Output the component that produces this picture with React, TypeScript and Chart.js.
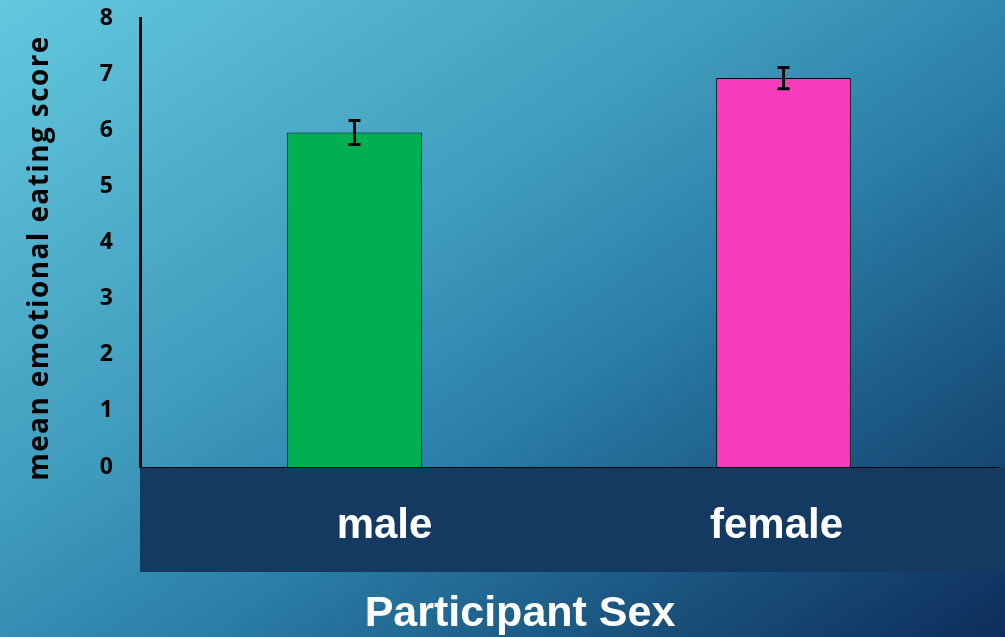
import React, { useEffect, useRef } from "react";
import { Chart, registerables } from "chart.js";

Chart.register(...registerables);

const categories = ["male", "female"];
const meanScores = [5.96, 6.93];
const errorMargins = [0.215, 0.19];
const barColors = ["#00B050", "#F73CBE"];
const yTicks = [0, 1, 2, 3, 4, 5, 6, 7, 8];
const yTitle = "mean emotional eating score";
const xTitle = "Participant Sex";

const W = 1005;
const H = 637;
const labelShift = [30, -7];

const decorPlugin = {
  id: "decor",
  beforeDraw(chart: any) {
    const { ctx } = chart;
    ctx.save();
    const g = ctx.createLinearGradient(0, 0, 650, 950);
    g.addColorStop(0, "#63C8DE");
    g.addColorStop(0.38, "#3F9BBC");
    g.addColorStop(0.55, "#2A7FA8");
    g.addColorStop(0.75, "#1A5580");
    g.addColorStop(1, "#0B2350");
    ctx.fillStyle = g;
    ctx.fillRect(0, 0, W, H);
    const area = chart.chartArea;
    ctx.fillStyle = "#143A62";
    ctx.fillRect(area.left, area.bottom + 1, W - area.left, 104);
    ctx.restore();
  },
  afterDatasetsDraw(chart: any) {
    const { ctx } = chart;
    const meta = chart.getDatasetMeta(0);
    const y = chart.scales.y;
    ctx.save();
    ctx.strokeStyle = "#000000";
    ctx.lineWidth = 3;
    meta.data.forEach((bar: any, i: number) => {
      const x = bar.x;
      const top = y.getPixelForValue(meanScores[i] + errorMargins[i]);
      const bot = y.getPixelForValue(meanScores[i] - errorMargins[i]);
      ctx.beginPath();
      ctx.moveTo(x, top);
      ctx.lineTo(x, bot);
      ctx.moveTo(x - 6, top);
      ctx.lineTo(x + 6, top);
      ctx.moveTo(x - 6, bot);
      ctx.lineTo(x + 6, bot);
      ctx.stroke();
    });
    ctx.restore();
  },
  afterDraw(chart: any) {
    const { ctx } = chart;
    const xs = chart.scales.x;
    const area = chart.chartArea;
    ctx.save();
    ctx.fillStyle = "#FFFFFF";
    ctx.textAlign = "center";
    ctx.textBaseline = "alphabetic";
    ctx.font = "bold 42px 'Liberation Sans', Arial, sans-serif";
    categories.forEach((c, i) => {
      ctx.fillText(c, xs.getPixelForValue(i) + labelShift[i], area.bottom + 71);
    });
    ctx.font = "bold 43px 'Liberation Sans', Arial, sans-serif";
    ctx.fillText(xTitle, 520, 626);
    ctx.fillStyle = "#000000";
    ctx.font = "bold 28px 'Open Sans', sans-serif";
    try {
      (ctx as any).letterSpacing = "1.4px";
    } catch (e) {}
    ctx.translate(40, 258);
    ctx.rotate(-Math.PI / 2);
    ctx.textBaseline = "middle";
    ctx.fillText(yTitle, 0, 0);
    ctx.restore();
  },
};

export default function App() {
  const ref = useRef<HTMLCanvasElement | null>(null);
  useEffect(() => {
    if (!ref.current) return;
    const chart = new Chart(ref.current, {
      type: "bar",
      data: {
        labels: categories,
        datasets: [
          {
            data: meanScores,
            backgroundColor: barColors,
            borderColor: "#000000",
            borderWidth: 1,
            categoryPercentage: 1,
            barPercentage: 0.314,
          },
        ],
      },
      options: {
        animation: false,
        responsive: true,
        maintainAspectRatio: false,
        layout: { padding: { top: 18, right: 7, left: 0, bottom: 0 } },
        plugins: {
          legend: { display: false },
          tooltip: { enabled: false },
        },
        scales: {
          x: {
            grid: { display: false },
            ticks: { display: false },
            border: { display: true, color: "#000000", width: 1 },
            afterFit: (s: any) => {
              s.height = 170;
              s.paddingLeft = 0;
              s.paddingRight = 0;
            },
          },
          y: {
            min: 0,
            max: 8,
            afterBuildTicks: (s: any) => {
              s.ticks = yTicks.map((v) => ({ value: v }));
            },
            grid: { display: false, drawTicks: false },
            border: { display: true, color: "#000000", width: 3 },
            ticks: {
              color: "#000000",
              padding: 27,
              font: { family: "'Open Sans', sans-serif", size: 23, weight: "bold" },
            },
            afterFit: (s: any) => {
              s.width = 140;
              s.paddingTop = 0;
              s.paddingBottom = 0;
            },
          },
        },
      },
      plugins: [decorPlugin],
    });
    return () => chart.destroy();
  }, []);
  return (
    <div style={{ position: "fixed", left: 0, top: 0, width: W, height: H }}>
      <canvas ref={ref} />
    </div>
  );
}
